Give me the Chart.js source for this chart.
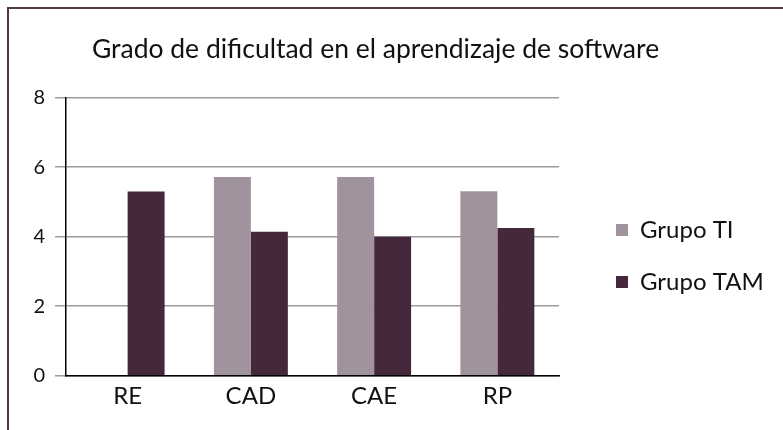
<!DOCTYPE html>
<html>
<head>
<meta charset="utf-8">
<script src="https://cdn.jsdelivr.net/npm/chart.js@4/dist/chart.umd.min.js"></script>
<style>
  html, body { margin: 0; padding: 0; background: #fff; }
  #wrap { position: relative; width: 783px; height: 430px; overflow: hidden; }
  #frame { position: absolute; left: 7px; top: 7px; width: 820px; height: 460px; border: 2px solid #55384c; }
  canvas { position: absolute; left: 0; top: 0; }
</style>
</head>
<body>
<div id="wrap">
  <div id="frame"></div>
  <canvas id="chart" width="783" height="430"></canvas>
</div>
<script>
const categories = ['RE', 'CAD', 'CAE', 'RP'];
const grupoTI = [null, 5.72, 5.72, 5.31];
const grupoTAM = [5.3, 4.14, 4.0, 4.25];
const yTicks = [0, 2, 4, 6, 8];

const FONT = 'Lato, "Open Sans", sans-serif';
const LEGEND_WIDTH = 224;
const LEGEND_DX = 29;
const LEGEND_DY = 41;
const TITLE_DX = -16;

// nudge legend + title where the reference puts them
const layoutTweaks = {
  id: 'layoutTweaks',
  afterInit(chart) {
    const lg = chart.legend;
    const fit = lg.fit;
    lg.fit = function () { fit.call(this); this.width = LEGEND_WIDTH; };
  },
  afterLayout(chart) {
    const lg = chart.legend, tb = chart.titleBlock;
    lg.left += LEGEND_DX; lg.right += LEGEND_DX;
    lg.top += LEGEND_DY; lg.bottom += LEGEND_DY;
    tb.left += TITLE_DX; tb.right += TITLE_DX;
  }
};

new Chart(document.getElementById('chart'), {
  type: 'bar',
  data: {
    labels: categories,
    datasets: [
      { label: 'Grupo TI', data: grupoTI, backgroundColor: '#a1939d', borderWidth: 0 },
      { label: 'Grupo TAM', data: grupoTAM, backgroundColor: '#46283c', borderWidth: 0 }
    ]
  },
  options: {
    responsive: false,
    animation: false,
    layout: { padding: 0 },
    datasets: { bar: { categoryPercentage: 0.6, barPercentage: 1.0 } },
    plugins: {
      title: {
        display: true,
        text: 'Grado de dificultad en el aprendizaje de software',
        color: '#111',
        font: { family: FONT, size: 26.5, weight: 'normal' },
        padding: { top: 33.8, bottom: 32.1 }
      },
      legend: {
        position: 'right',
        labels: {
          color: '#111',
          font: { family: FONT, size: 24 },
          boxWidth: 12,
          boxHeight: 12,
          padding: 28
        }
      },
      tooltip: { enabled: false }
    },
    scales: {
      x: {
        grid: { display: false },
        border: { display: true, color: '#000', width: 1.5 },
        ticks: { color: '#111', font: { family: FONT, size: 24 }, padding: -2 },
        afterFit(s) { s.height = 54.3; }
      },
      y: {
        min: 0,
        max: 8,
        afterBuildTicks(s) { s.ticks = yTicks.map(v => ({ value: v })); },
        grid: { color: '#9c9c9c', lineWidth: 1.5, tickLength: 11, tickColor: '#9c9c9c' },
        border: { display: true, color: '#000', width: 1.5 },
        ticks: { color: '#111', font: { family: FONT, size: 20 }, padding: 10 },
        afterFit(s) { s.width = 66; }
      }
    }
  },
  plugins: [layoutTweaks]
});
</script>
</body>
</html>
